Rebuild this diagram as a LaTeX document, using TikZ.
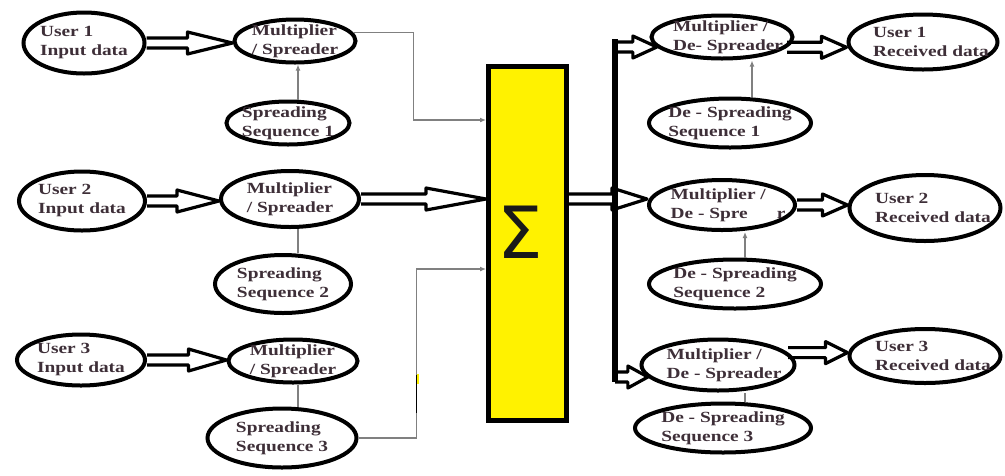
\documentclass[tikz,border=0pt]{standalone}
\usepackage{fontspec}
\setmainfont{Liberation Serif}[FakeStretch=1.25]
\newfontfamily\sigmafont{DejaVu Sans}
\usetikzlibrary{shapes.geometric,calc,arrows.meta}
\definecolor{txtdark}{HTML}{3E2F38}
\definecolor{sumyellow}{RGB}{255,242,0}
\definecolor{wiregray}{RGB}{128,128,128}
\tikzset{
  oval/.style={ellipse, draw=black, line width=4pt, fill=white, inner sep=0pt},
  lbl/.style={font=\fontsize{15.5}{19}\selectfont\bfseries, text=txtdark, align=left, inner sep=0pt},
  wire/.style={draw=wiregray, line width=1.3pt},
  wiretip/.style={wire, -{Latex[length=6pt,width=5pt]}},
  % hollow block arrow running horizontally at the height of its start point
  blk/.style={draw=black, line width=3.2pt, line join=round, to path={
     let \p1=(\tikztostart), \p2=(\tikztotarget) in
     (\x1,\y1+5pt) -- (\x2-#1,\y1+5pt) -- (\x2-#1,\y1+11pt) -- (\x2,\y1)
     -- (\x2-#1,\y1-11pt) -- (\x2-#1,\y1-5pt) -- (\x1,\y1-5pt)}},
  sumbox/.style={rectangle, draw=black, line width=5pt, fill=sumyellow, inner sep=0pt},
  bus/.style={draw=black, line width=6pt}
}
\begin{document}
\begin{tikzpicture}[x=1pt, y=-1pt]
\useasboundingbox (0,0) rectangle (1005,475);

% transmitter side
\node[oval, minimum width=121, minimum height=61, label={[lbl]center:{User 1\\Input data}}] (u1) at (84,43) {};
\node[oval, minimum width=121, minimum height=43, label={[lbl]center:{Multiplier\\/ Spreader}}] (m1) at (295,41) {};
\node[oval, minimum width=123, minimum height=43, label={[lbl]center:{Spreading\\Sequence 1}}] (s1) at (288,123) {};

\node[oval, minimum width=126, minimum height=59, label={[lbl]center:{User 2\\Input data}}] (u2) at (82,201) {};
\node[oval, minimum width=138, minimum height=56, label={[lbl]center:{Multiplier\\/ Spreader}}] (m2) at (290,199) {};
\node[oval, minimum width=136, minimum height=58, label={[lbl]center:{Spreading\\Sequence 2}}] (s2) at (283,284) {};

\node[oval, minimum width=128, minimum height=51, label={[lbl]center:{User 3\\Input data}}] (u3) at (81,360) {};
\node[oval, minimum width=129, minimum height=43, label={[lbl]center:{Multiplier\\/ Spreader}}] (m3) at (293,361) {};
\node[oval, minimum width=149, minimum height=59, label={[lbl]center:{Spreading\\Sequence 3}}] (s3) at (282,438) {};

% summing block
\node[sumbox, minimum width=78, minimum height=354] (sum) at (527.5,243.5) {};
\node[inner sep=0pt, font=\sigmafont\fontsize{72}{72}\selectfont, text=black!90] (sig) at (520,232) {Σ};

% receiver side
\node[oval, minimum width=141, minimum height=43, label={[lbl,xshift=6pt]center:{Multiplier /\\De- Spreader}}] (rm1) at (722,37) {};
\node[oval, minimum width=149, minimum height=55, label={[lbl,xshift=8pt]center:{User 1\\Received data}}] (ru1) at (923,42) {};
\node[oval, minimum width=162, minimum height=49, label={[lbl]center:{De - Spreading\\Sequence 1}}] (ds1) at (730,123) {};

\node[oval, minimum width=146, minimum height=50, label={[lbl,xshift=6pt]center:{Multiplier /\\De - Spre\phantom{ade}r}}] (rm2) at (722,205) {};
\node[oval, minimum width=151, minimum height=66, label={[lbl,xshift=8pt]center:{User 2\\Received data}}] (ru2) at (925,208) {};
\node[oval, minimum width=172, minimum height=49, label={[lbl]center:{De - Spreading\\Sequence 2}}] (ds2) at (735,284) {};

\node[oval, minimum width=153, minimum height=51, label={[lbl,xshift=6pt]center:{Multiplier /\\De - Spreader}}] (rm3) at (718,365) {};
\node[oval, minimum width=151, minimum height=54, label={[lbl,xshift=8pt]center:{User 3\\Received data}}] (ru3) at (925,356) {};
\node[oval, minimum width=176, minimum height=49, label={[lbl]center:{De - Spreading\\Sequence 3}}] (ds3) at (723,428) {};

% spreading sequences into the multipliers
\draw[wiretip] ([xshift=3pt]m1.south |- s1.north) -- ([xshift=3pt]m1.south);
\draw[wire] ([xshift=8pt]m2.south |- s2.north) -- ([xshift=8pt]m2.south);
\draw[wire] ([xshift=5pt]m3.south |- s3.north) -- ([xshift=5pt]m3.south);

% thin feeds into the summing block
\draw[wiretip] (m1.8) -- ++(60,0) |- ([yshift=123.5pt]sum.west);
\draw[wiretip] (s3.east) -- ++(58,0) |- ([yshift=-25.5pt]sum.west);
\draw[line width=1.8pt] ([xshift=58pt,yshift=63pt]s3.east) -- ([xshift=58pt,yshift=25pt]s3.east);
\draw[sumyellow, line width=1.5pt] ([xshift=59.5pt,yshift=64pt]s3.east) -- ([xshift=59.5pt,yshift=54pt]s3.east);

% de-spreading sequences into the receivers
\draw[wiretip] ([xshift=30pt]rm1.south |- ds1.north) -- ([xshift=30pt]rm1.south);
\draw[wiretip] ([xshift=23pt]rm2.south |- ds2.north) -- ([xshift=23pt]rm2.south);
\draw[wire] ([xshift=27pt]rm3.south |- ds3.north) -- ([xshift=27pt]rm3.south);

% distribution bus
\coordinate (bustop) at (615,47);
\coordinate (busbot) at (615,377);
\draw[bus] ([yshift=8pt]bustop) -- ([yshift=-5pt]busbot);

% block arrows
\draw[blk=45pt] (u1.east) to (m1.west);
\draw[blk=42pt] (u2.east) to (m2.west);
\draw[blk=38pt] (u3.east) to (m3.west);
\draw[blk=60pt] (m2.east) to (sum.west);
\draw[blk=35pt] (sum.east |- m2.east) to (rm2.west);
\draw[blk=24pt] (bustop) to (rm1.189);
\draw[blk=20pt] (busbot) to (rm3.190);
\draw[blk=25pt] (rm1.-9) to (ru1.west);
\draw[blk=25pt] (rm2.east) to (ru2.west);
\draw[blk=22pt] (rm3.10) to (ru3.west);
\end{tikzpicture}
\end{document}
